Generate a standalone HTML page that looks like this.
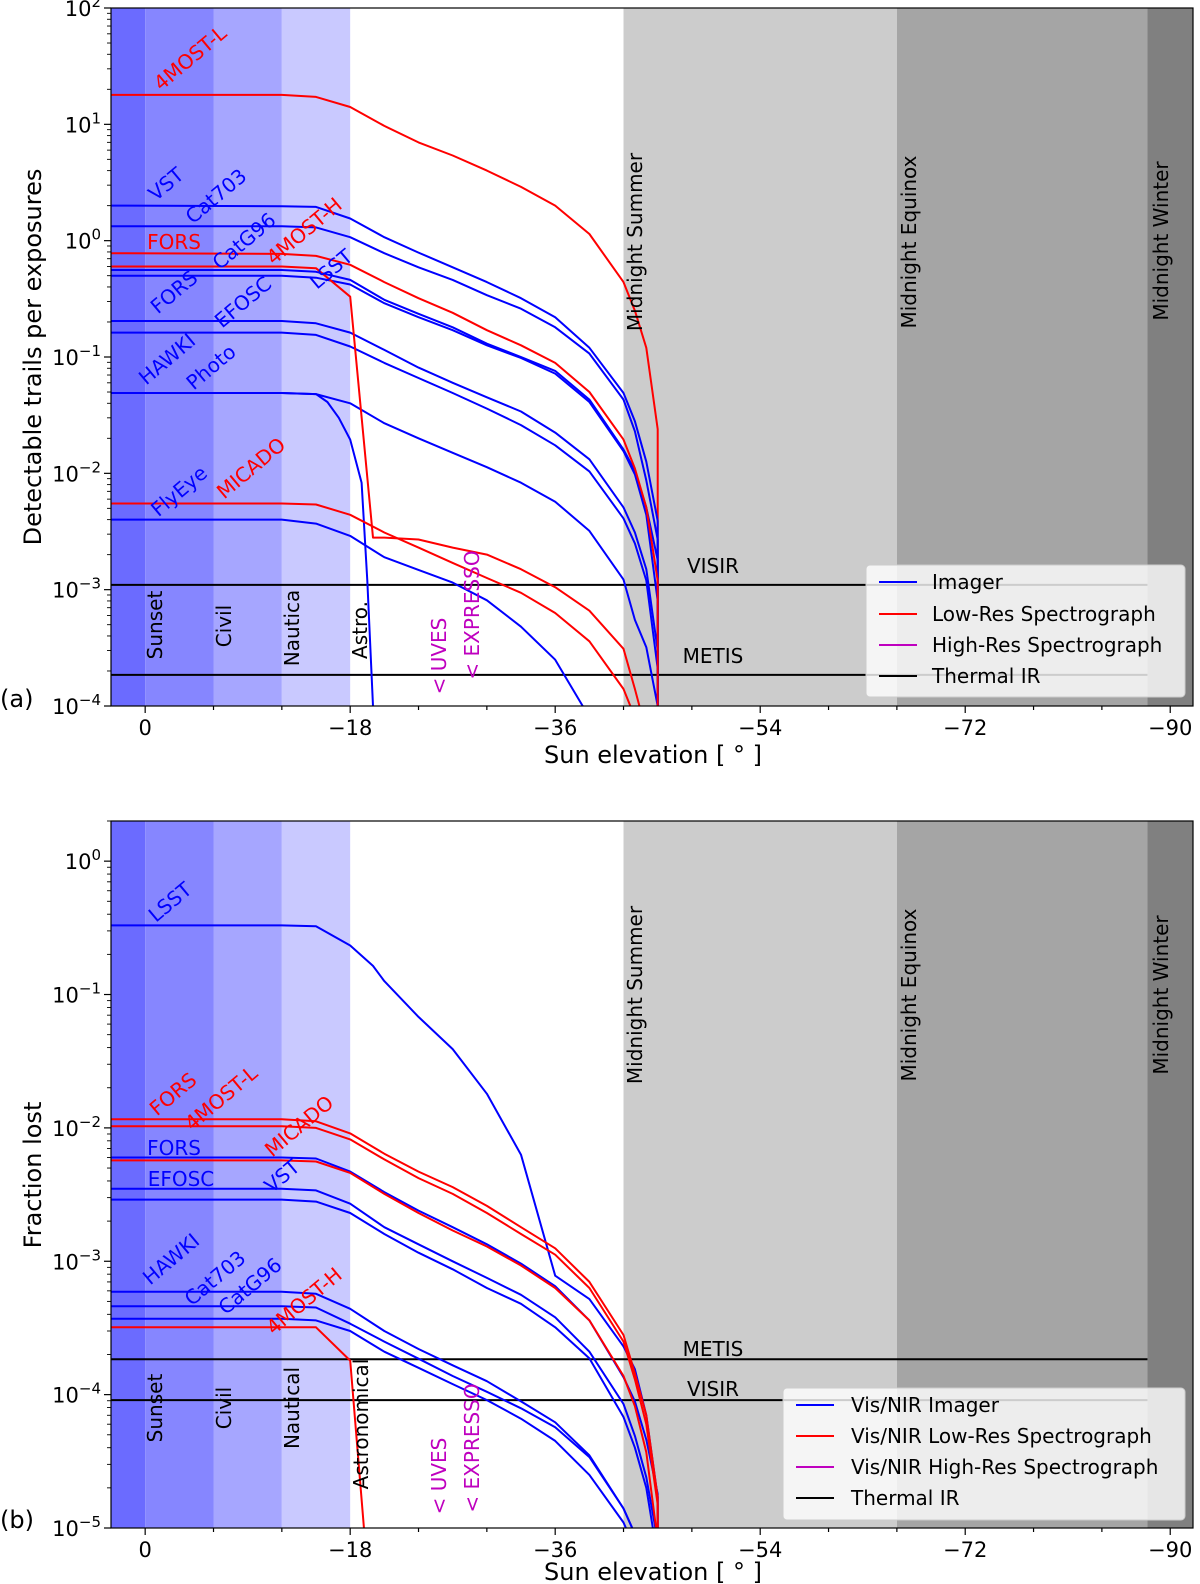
<!DOCTYPE html>
<html><head><meta charset="utf-8"><title>Satellite trails vs sun elevation</title>
<style>html,body{margin:0;padding:0;background:#fff;overflow:hidden}svg{display:block}</style></head>
<body>
<svg id="chart" width="1200" height="1584" viewBox="0 0 1200 1584" xmlns="http://www.w3.org/2000/svg" font-family="'DejaVu Sans','Liberation Sans',sans-serif">
<rect width="1200" height="1584" fill="#fff"/>
<defs>
<clipPath id="clipA"><rect x="111" y="8" width="1082" height="698"/></clipPath>
<clipPath id="clipB"><rect x="111" y="821" width="1082" height="707"/></clipPath>
</defs>
<g id="bandsA" clip-path="url(#clipA)"></g>
<g id="bandsB" clip-path="url(#clipB)"></g>
<g id="marksA" clip-path="url(#clipA)"></g>
<g id="marksB" clip-path="url(#clipB)"></g>
<g id="axes"></g>

<!-- panel a static labels -->
<g font-size="20">
<text fill="#f00" text-anchor="middle" dominant-baseline="central" transform="translate(190,58) rotate(-40)">4MOST-L</text>
<text fill="#00f" text-anchor="middle" dominant-baseline="central" transform="translate(166,184) rotate(-40)">VST</text>
<text fill="#00f" text-anchor="middle" dominant-baseline="central" transform="translate(216,196) rotate(-40)">Cat703</text>
<text fill="#f00" text-anchor="middle" dominant-baseline="central" transform="translate(304,231) rotate(-40)">4MOST-H</text>
<text fill="#f00" text-anchor="middle" dominant-baseline="central" x="174" y="242">FORS</text>
<text fill="#00f" text-anchor="middle" dominant-baseline="central" transform="translate(244,241) rotate(-40)">CatG96</text>
<text fill="#00f" text-anchor="middle" dominant-baseline="central" transform="translate(331,269) rotate(-40)">LSST</text>
<text fill="#00f" text-anchor="middle" dominant-baseline="central" transform="translate(174,292) rotate(-40)">FORS</text>
<text fill="#00f" text-anchor="middle" dominant-baseline="central" transform="translate(243,302) rotate(-40)">EFOSC</text>
<text fill="#00f" text-anchor="middle" dominant-baseline="central" transform="translate(167,359) rotate(-40)">HAWKI</text>
<text fill="#00f" text-anchor="middle" dominant-baseline="central" transform="translate(211,367) rotate(-40)">Photo</text>
<text fill="#00f" text-anchor="middle" dominant-baseline="central" transform="translate(179,491) rotate(-40)">FlyEye</text>
<text fill="#f00" text-anchor="middle" dominant-baseline="central" transform="translate(251,468) rotate(-40)">MICADO</text>

<text text-anchor="middle" transform="translate(162,625) rotate(-90)">Sunset</text>
<text text-anchor="middle" transform="translate(231,626) rotate(-90)">Civil</text>
<text text-anchor="middle" transform="translate(299,628) rotate(-90)">Nautica</text>
<text text-anchor="middle" transform="translate(367,630) rotate(-90)">Astro.</text>
<text fill="#bf00bf" text-anchor="middle" transform="translate(446,656) rotate(-90)">&lt; UVES</text>
<text fill="#bf00bf" text-anchor="middle" transform="translate(479,615) rotate(-90)">&lt; EXPRESSO</text>
<text text-anchor="middle" transform="translate(642,242) rotate(-90)">Midnight Summer</text>
<text text-anchor="middle" transform="translate(916,242) rotate(-90)">Midnight Equinox</text>
<text text-anchor="middle" transform="translate(1168,241) rotate(-90)">Midnight Winter</text>
<text text-anchor="middle" dominant-baseline="central" x="713" y="566">VISIR</text>
<text text-anchor="middle" dominant-baseline="central" x="713" y="656">METIS</text>
</g>

<!-- panel b static labels -->
<g font-size="20">
<text fill="#00f" text-anchor="middle" dominant-baseline="central" transform="translate(170,902) rotate(-40)">LSST</text>
<text fill="#f00" text-anchor="middle" dominant-baseline="central" transform="translate(173,1094) rotate(-40)">FORS</text>
<text fill="#f00" text-anchor="middle" dominant-baseline="central" transform="translate(221,1098) rotate(-40)">4MOST-L</text>
<text fill="#f00" text-anchor="middle" dominant-baseline="central" transform="translate(299,1126) rotate(-40)">MICADO</text>
<text fill="#00f" text-anchor="middle" dominant-baseline="central" x="174" y="1148">FORS</text>
<text fill="#00f" text-anchor="middle" dominant-baseline="central" x="181" y="1179">EFOSC</text>
<text fill="#00f" text-anchor="middle" dominant-baseline="central" transform="translate(282,1176) rotate(-40)">VST</text>
<text fill="#00f" text-anchor="middle" dominant-baseline="central" transform="translate(171,1259) rotate(-40)">HAWKI</text>
<text fill="#00f" text-anchor="middle" dominant-baseline="central" transform="translate(215,1278) rotate(-40)">Cat703</text>
<text fill="#00f" text-anchor="middle" dominant-baseline="central" transform="translate(250,1286) rotate(-40)">CatG96</text>
<text fill="#f00" text-anchor="middle" dominant-baseline="central" transform="translate(304,1301) rotate(-40)">4MOST-H</text>

<text text-anchor="middle" transform="translate(162,1408) rotate(-90)">Sunset</text>
<text text-anchor="middle" transform="translate(231,1408) rotate(-90)">Civil</text>
<text text-anchor="middle" transform="translate(299,1408) rotate(-90)">Nautical</text>
<text text-anchor="middle" transform="translate(368,1424) rotate(-90)">Astronomical</text>
<text fill="#bf00bf" text-anchor="middle" transform="translate(446,1476) rotate(-90)">&lt; UVES</text>
<text fill="#bf00bf" text-anchor="middle" transform="translate(479,1448) rotate(-90)">&lt; EXPRESSO</text>
<text text-anchor="middle" transform="translate(642,995) rotate(-90)">Midnight Summer</text>
<text text-anchor="middle" transform="translate(916,995) rotate(-90)">Midnight Equinox</text>
<text text-anchor="middle" transform="translate(1168,995) rotate(-90)">Midnight Winter</text>
<text text-anchor="middle" dominant-baseline="central" x="713" y="1349">METIS</text>
<text text-anchor="middle" dominant-baseline="central" x="713" y="1389">VISIR</text>
</g>

<!-- axis titles -->
<g font-size="24">
<text text-anchor="middle" transform="translate(41,357) rotate(-90)">Detectable trails per exposures</text>
<text text-anchor="middle" transform="translate(41,1175) rotate(-90)">Fraction lost</text>
<text text-anchor="middle" x="653" y="763">Sun elevation [ ° ]</text>
<text text-anchor="middle" x="653" y="1580">Sun elevation [ ° ]</text>
<text x="0" y="707">(a)</text>
<text x="0" y="1528">(b)</text>
</g>

<!-- legend a -->
<g font-size="20">
<rect x="866" y="565" width="319" height="132" rx="4" fill="#fff" fill-opacity="0.8" stroke="#ccc"/>
<g><line x1="879" x2="917" y1="582" y2="582" stroke="#00f" stroke-width="2"/><text x="932" y="589">Imager</text></g>
<g><line x1="879" x2="917" y1="614" y2="614" stroke="#f00" stroke-width="2"/><text x="932" y="621">Low-Res Spectrograph</text></g>
<g><line x1="879" x2="917" y1="645" y2="645" stroke="#bf00bf" stroke-width="2"/><text x="932" y="652">High-Res Spectrograph</text></g>
<g><line x1="879" x2="917" y1="676" y2="676" stroke="#000" stroke-width="2"/><text x="932" y="683">Thermal IR</text></g>
</g>
<!-- legend b -->
<g font-size="20">
<rect x="783" y="1388" width="402" height="132" rx="4" fill="#fff" fill-opacity="0.8" stroke="#ccc"/>
<g><line x1="796" x2="834" y1="1405" y2="1405" stroke="#00f" stroke-width="2"/><text x="851" y="1412">Vis/NIR Imager</text></g>
<g><line x1="796" x2="834" y1="1436" y2="1436" stroke="#f00" stroke-width="2"/><text x="851" y="1443">Vis/NIR Low-Res Spectrograph</text></g>
<g><line x1="796" x2="834" y1="1467" y2="1467" stroke="#bf00bf" stroke-width="2"/><text x="851" y="1474">Vis/NIR High-Res Spectrograph</text></g>
<g><line x1="796" x2="834" y1="1498" y2="1498" stroke="#000" stroke-width="2"/><text x="851" y="1505">Thermal IR</text></g>
</g>
</svg>

<script>
// ---------- data ----------
const elevStd = [3, -12, -15, -18, -21, -24, -27, -30, -33, -36, -39, -42, -43, -44, -45, -45.01];
const elevFastA = [3, -12, -15, -16, -17, -18, -19, -19.5, -20, -20.2];
const elev4mhA = [3, -12, -15, -18, -20, -21, -24, -27, -30, -33, -36, -39, -42, -43, -44];
const elevLsstB = [3, -12, -15, -18, -20, -21, -24, -27, -30, -33, -36, -39, -42, -43, -44, -45, -45.01];
const elev4mhB = [3, -12, -15, -18, -19.3];

// panel a (detectable trails per exposure)
const a4mostL = [17.9, 17.9, 17.2, 14.1, 9.7, 7.0, 5.4, 4.0, 2.9, 2.0, 1.14, 0.44, 0.25, 0.12, 0.024, 1e-7];
const aVst = [2.0, 1.98, 1.95, 1.55, 1.07, 0.79, 0.59, 0.44, 0.32, 0.22, 0.12, 0.049, 0.028, 0.0126, 0.0039, 1e-7];
const aCat703 = [1.33, 1.33, 1.30, 1.07, 0.78, 0.59, 0.46, 0.34, 0.26, 0.18, 0.107, 0.043, 0.023, 0.0087, 0.0027, 1e-7];
const aForsRed = [0.78, 0.77, 0.74, 0.62, 0.44, 0.32, 0.24, 0.17, 0.126, 0.089, 0.050, 0.0195, 0.011, 0.0051, 0.0012, 1e-7];
const aCatG96 = [0.56, 0.56, 0.54, 0.46, 0.31, 0.235, 0.18, 0.13, 0.10, 0.076, 0.043, 0.016, 0.0105, 0.0051, 0.0018, 1e-7];
const aLsst = [0.50, 0.50, 0.48, 0.42, 0.29, 0.22, 0.17, 0.126, 0.098, 0.072, 0.041, 0.0155, 0.0098, 0.0044, 0.0008, 1e-7];
const aHawki = [0.204, 0.204, 0.195, 0.162, 0.115, 0.081, 0.060, 0.045, 0.034, 0.0224, 0.0132, 0.0051, 0.0031, 0.0015, 0.0003, 1e-7];
const aEfosc = [0.162, 0.162, 0.155, 0.123, 0.089, 0.066, 0.049, 0.036, 0.026, 0.0174, 0.0104, 0.0041, 0.0025, 0.0012, 0.00021, 1e-7];
const aForsBlue = [0.049, 0.049, 0.048, 0.040, 0.027, 0.020, 0.015, 0.0113, 0.0083, 0.0057, 0.0032, 0.00122, 0.00055, 0.00032, 0.0001, 1e-7];
const aFlyEye = [0.004, 0.004, 0.0037, 0.0029, 0.0019, 0.00148, 0.00115, 0.00081, 0.00048, 0.00025, 0.00008, 0.00003, 0.00002, 0.00001, 0.000005, 1e-7];
const aMicado = [0.0055, 0.0055, 0.0054, 0.0044, 0.0031, 0.0023, 0.0017, 0.00126, 0.00094, 0.00063, 0.00036, 0.00014, 0.00008, 0.00004, 0.00002, 1e-7];
const aPhoto = [0.049, 0.049, 0.048, 0.041, 0.030, 0.0195, 0.0083, 0.0012, 0.0001, 0.00003];
const a4mostH = [0.6, 0.6, 0.58, 0.33, 0.0028, 0.0028, 0.0027, 0.0023, 0.0020, 0.0015, 0.00105, 0.00066, 0.00031, 0.00014, 0.00006];

// panel b (fraction lost)
const bLsst = [0.33, 0.33, 0.325, 0.233, 0.164, 0.126, 0.068, 0.039, 0.018, 0.0063, 0.00078, 0.00052, 0.00023, 0.000155, 0.00007, 0.000017, 1e-8];
const bForsRed = [0.0116, 0.0116, 0.0112, 0.0091, 0.0064, 0.0047, 0.0036, 0.0026, 0.0018, 0.00125, 0.0007, 0.00028, 0.000144, 0.00007, 0.000017, 1e-8];
const b4mostL = [0.0103, 0.0103, 0.0100, 0.0082, 0.0058, 0.0042, 0.0032, 0.0023, 0.0016, 0.00112, 0.00063, 0.00025, 0.00013, 0.00006, 0.000015, 1e-8];
const bForsBlue = [0.0060, 0.0060, 0.0059, 0.0047, 0.0033, 0.0024, 0.0018, 0.00134, 0.00096, 0.00065, 0.00036, 0.000135, 0.000089, 0.000046, 0.000018, 1e-8];
const bMicado = [0.0057, 0.0057, 0.0056, 0.0046, 0.0032, 0.0023, 0.0017, 0.00129, 0.00093, 0.00063, 0.00036, 0.000138, 0.000082, 0.000037, 0.000008, 1e-8];
const bEfosc = [0.0035, 0.0035, 0.0034, 0.0027, 0.0018, 0.00134, 0.0010, 0.00075, 0.00056, 0.00038, 0.00021, 0.000085, 0.000049, 0.000024, 0.000008, 1e-8];
const bVst = [0.0029, 0.0029, 0.0028, 0.0023, 0.0016, 0.00116, 0.00087, 0.00063, 0.00048, 0.00032, 0.000187, 0.000068, 0.00004, 0.00002, 0.000006, 1e-8];
const bHawki = [0.00059, 0.00059, 0.00057, 0.00044, 0.00030, 0.00022, 0.000166, 0.000126, 0.000089, 0.000062, 0.000035, 0.000014, 0.000009, 0.000005, 0.000002, 1e-8];
const bCat703 = [0.00046, 0.00046, 0.00045, 0.00034, 0.00025, 0.000186, 0.000138, 0.000105, 0.000079, 0.000057, 0.000034, 0.000014, 0.000009, 0.000005, 0.000002, 1e-8];
const bCatG96 = [0.00037, 0.00037, 0.00036, 0.00030, 0.00021, 0.000159, 0.00012, 0.000091, 0.000066, 0.000045, 0.000025, 0.000011, 0.000007, 0.000004, 0.000002, 1e-8];
const b4mostH = [0.00032, 0.00032, 0.00032, 0.00018, 0.000008];

// thermal IR thresholds and ranges
const thermalNames = ['VISIR', 'METIS'];
const thermalA = [0.0011, 0.000185];
const thermalB = [0.000091, 0.000184];
const thermalRange = [3, -88];

// twilight / night bands (elevation ranges)
const bandStart = [3, 0, -6, -12, -42, -66, -88];
const bandEnd = [0, -6, -12, -18, -66, -88, -92];
const bandColors = ['#6b6bff', '#8686ff', '#a6a6ff', '#c9c9ff', '#cccccc', '#a5a5a5', '#808080'];

// ticks
const xTickVals = [0, -6, -12, -18, -24, -30, -36, -42, -48, -54, -60, -66, -72, -78, -84, -90];
const xTickLabelVals = [0, -18, -36, -54, -72, -90];
const yExpA = [2, 1, 0, -1, -2, -3, -4];
const yExpB = [0, -1, -2, -3, -4, -5];

// ---------- scales ----------
const NS = 'http://www.w3.org/2000/svg';
const L = 111, R = 1193;
const panels = {
  a: {top: 8, bottom: 706, lo: -4, hi: 2},
  b: {top: 821, bottom: 1528, lo: -5, hi: Math.log10(2)}
};
function xs(d) { return L + (3 - d) * (R - L) / 95; }
function ys(p, v) { return p.bottom - (Math.log10(v) - p.lo) / (p.hi - p.lo) * (p.bottom - p.top); }
function el(tag, parent) { const e = document.createElementNS(NS, tag); parent.appendChild(e); return e; }

// ---------- bands ----------
['a', 'b'].forEach(function (k) {
  const p = panels[k];
  const g = document.getElementById('bands' + k.toUpperCase());
  for (let i = 0; i < bandStart.length; i++) {
    const r = el('rect', g);
    
    
    const x0 = xs(bandStart[i]), x1 = xs(bandEnd[i]);
    r.setAttribute('x', x0); r.setAttribute('width', x1 - x0);
    r.setAttribute('y', p.top); r.setAttribute('height', p.bottom - p.top);
    r.setAttribute('fill', bandColors[i]);
  }
});

// ---------- series ----------
function drawSeries(k, elev, vals, color, name) {
  const p = panels[k];
  const g = document.getElementById('marks' + k.toUpperCase());
  const pts = elev.map(function (d, i) { return xs(d).toFixed(1) + ',' + ys(p, vals[i]).toFixed(1); });
  const pl = el('polyline', g);
  
  
  pl.setAttribute('points', pts.join(' '));
  pl.setAttribute('fill', 'none');
  pl.setAttribute('stroke', color);
  pl.setAttribute('stroke-width', '2');
  pl.setAttribute('stroke-linejoin', 'round');
}
const BLUE = '#0000ff', RED = '#ff0000';
function drawThermal(k, vals) {
  const p = panels[k];
  const g = document.getElementById('marks' + k.toUpperCase());
  vals.forEach(function (v, i) {
    const ln = el('line', g);
    
    
    ln.setAttribute('x1', xs(thermalRange[0])); ln.setAttribute('x2', xs(thermalRange[1]));
    ln.setAttribute('y1', ys(p, v)); ln.setAttribute('y2', ys(p, v));
    ln.setAttribute('stroke', '#000'); ln.setAttribute('stroke-width', '2');
  });
}
drawThermal('a', thermalA);
drawSeries('a', elevStd, a4mostL, RED, 'line-a-4most-l');
drawSeries('a', elevStd, aVst, BLUE, 'line-a-vst');
drawSeries('a', elevStd, aCat703, BLUE, 'line-a-cat703');
drawSeries('a', elevStd, aCatG96, BLUE, 'line-a-catg96');
drawSeries('a', elevStd, aLsst, BLUE, 'line-a-lsst');
drawSeries('a', elevStd, aHawki, BLUE, 'line-a-hawki');
drawSeries('a', elevStd, aEfosc, BLUE, 'line-a-efosc');
drawSeries('a', elevStd, aForsBlue, BLUE, 'line-a-fors-blue');
drawSeries('a', elevFastA, aPhoto, BLUE, 'line-a-photo');
drawSeries('a', elevStd, aFlyEye, BLUE, 'line-a-flyeye');
drawSeries('a', elevStd, aForsRed, RED, 'line-a-fors-red');
drawSeries('a', elev4mhA, a4mostH, RED, 'line-a-4most-h');
drawSeries('a', elevStd, aMicado, RED, 'line-a-micado');

drawThermal('b', thermalB);
drawSeries('b', elevLsstB, bLsst, BLUE, 'line-b-lsst');
drawSeries('b', elevStd, bForsBlue, BLUE, 'line-b-fors-blue');
drawSeries('b', elevStd, bEfosc, BLUE, 'line-b-efosc');
drawSeries('b', elevStd, bVst, BLUE, 'line-b-vst');
drawSeries('b', elevStd, bHawki, BLUE, 'line-b-hawki');
drawSeries('b', elevStd, bCat703, BLUE, 'line-b-cat703');
drawSeries('b', elevStd, bCatG96, BLUE, 'line-b-catg96');
drawSeries('b', elevStd, bForsRed, RED, 'line-b-fors-red');
drawSeries('b', elevStd, b4mostL, RED, 'line-b-4most-l');
drawSeries('b', elevStd, bMicado, RED, 'line-b-micado');
drawSeries('b', elev4mhB, b4mostH, RED, 'line-b-4most-h');

// ---------- axes ----------
const ax = document.getElementById('axes');
function fmtNum(d) { return d < 0 ? '\u2212' + (-d) : String(d); }
['a', 'b'].forEach(function (k) {
  const p = panels[k];
  const frame = el('rect', ax);
  
  
  frame.setAttribute('x', L); frame.setAttribute('y', p.top);
  frame.setAttribute('width', R - L); frame.setAttribute('height', p.bottom - p.top);
  frame.setAttribute('fill', 'none'); frame.setAttribute('stroke', '#000'); frame.setAttribute('stroke-width', '1.2');
  xTickVals.forEach(function (d) {
    const major = xTickLabelVals.indexOf(d) >= 0;
    const t = el('line', ax);
    
    
    t.setAttribute('x1', xs(d)); t.setAttribute('x2', xs(d));
    t.setAttribute('y1', p.bottom); t.setAttribute('y2', p.bottom + (major ? 7 : 4));
    t.setAttribute('stroke', '#000'); t.setAttribute('stroke-width', '1.2');
  });
  xTickLabelVals.forEach(function (d) {
    const tx = el('text', ax);
    
    
    tx.setAttribute('x', xs(d)); tx.setAttribute('y', p.bottom + 29);
    tx.setAttribute('text-anchor', 'middle'); tx.setAttribute('font-size', '21');
    tx.textContent = fmtNum(d);
  });
  for (let e = Math.floor(p.lo); e <= Math.ceil(p.hi); e++) {
    for (let m = 1; m <= 9; m++) {
      const lv = e + Math.log10(m);
      if (lv < p.lo - 1e-9 || lv > p.hi + 1e-9) continue;
      const y = ys(p, Math.pow(10, lv));
      const t = el('line', ax);
      
      
      t.setAttribute('x1', L); t.setAttribute('x2', L - (m === 1 ? 7 : 4));
      t.setAttribute('y1', y); t.setAttribute('y2', y);
      t.setAttribute('stroke', '#000'); t.setAttribute('stroke-width', m === 1 ? 1.2 : 0.9);
    }
  }
  const exps = k === 'a' ? yExpA : yExpB;
  exps.forEach(function (e) {
    const y = ys(p, Math.pow(10, e));
    const tx = el('text', ax);
    
    
    tx.setAttribute('x', L - 10); tx.setAttribute('y', y + 8);
    tx.setAttribute('text-anchor', 'end'); tx.setAttribute('font-size', '21');
    tx.appendChild(document.createTextNode('10'));
    const sp = document.createElementNS(NS, 'tspan');
    sp.setAttribute('dy', '-9'); sp.setAttribute('font-size', '15');
    sp.textContent = fmtNum(e);
    tx.appendChild(sp);
  });
});
</script>
</body></html>
